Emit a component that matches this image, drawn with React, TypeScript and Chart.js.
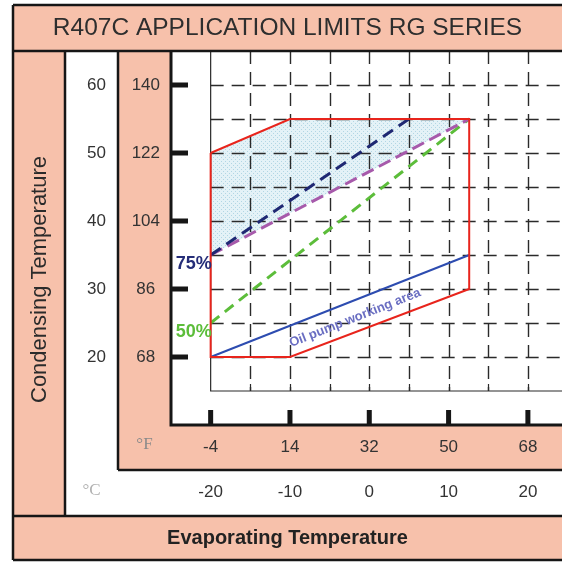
import React, { useEffect, useRef } from 'react';
import { Chart, registerables } from 'chart.js';

Chart.register(...registerables);

// ---------- texts ----------
const titleText = 'R407C APPLICATION LIMITS RG SERIES';
const xAxisTitle = 'Evaporating Temperature';
const yAxisTitle = 'Condensing Temperature';
const unitF = '°F';
const unitC = '°C';
const label75 = '75%';
const label50 = '50%';
const oilLabel = 'Oil pump working area';

// ---------- ticks (values in °C, labels in °F / °C) ----------
const xTickValuesC = [-20, -10, 0, 10, 20];
const xTickLabelsF = ['-4', '14', '32', '50', '68'];
const xTickLabelsC = ['-20', '-10', '0', '10', '20'];
const yTickValuesC = [20, 30, 40, 50, 60];
const yTickLabelsF = ['68', '86', '104', '122', '140'];
const yTickLabelsC = ['20', '30', '40', '50', '60'];

// ---------- dashed grid (°C) ----------
const gridLinesX = [-15, -10, -5, 0, 5, 10, 15, 20];
const gridLinesY = [20, 25, 30, 35, 40, 45, 50, 55, 60];
const gridOriginX = -20;
const gridOriginY = 15;

// ---------- series (°C) ----------
const envelopeX = [-20, -10, 12.6, 12.6, -10, -20, -20];
const envelopeY = [50, 55, 55, 30, 20, 20, 50];
const shadedX = [-20, -20, -10, 12.6, -20];
const shadedY = [35, 50, 55, 55, 35];
const line75X = [-20, 5];
const line75Y = [35, 55];
const lineLimitX = [-20, 12.6];
const lineLimitY = [35, 55];
const line50X = [-20, 12.6];
const line50Y = [25, 55];
const oilX = [-20, 12.6];
const oilY = [20, 35];
const oilLabelAt = [-1.8, 0];

const FAM = "'Liberation Sans', Arial, sans-serif";
const PINK = '#f7c1ab';
const INK = '#161616';

const pts = (xs: number[], ys: number[]) => xs.map((v, i) => ({ x: v, y: ys[i] }));

const panelPlugin = {
  id: 'panels',
  beforeDraw(chart: any) {
    const ctx = chart.ctx;
    const { y, yC, xC } = chart.scales;
    const ca = chart.chartArea;
    const W = chart.width;
    const H = chart.height;
    const left = yC.left;
    const top = 5;
    const colA = left + 52;
    const colB = y.left;
    const rowF = xC.top;
    const rowC = xC.bottom;
    const bottom = H - 2;
    ctx.save();
    ctx.fillStyle = '#ffffff';
    ctx.fillRect(0, 0, W, H);
    ctx.fillStyle = PINK;
    ctx.fillRect(left, top, W - left, ca.top - top);
    ctx.fillRect(left, ca.top, colA - left, rowC - ca.top);
    ctx.fillRect(colB, ca.top, ca.left - colB, rowF - ca.top);
    ctx.fillRect(colB, ca.bottom, W - colB, rowF - ca.bottom);
    ctx.fillRect(left, rowC, W - left, bottom - rowC);
    ctx.restore();
  },
  afterDatasetDraw(chart: any, args: any) {
    if (args.index !== 5) return;
    const ctx = chart.ctx;
    const { x, y } = chart.scales;
    const ca = chart.chartArea;
    const gx0 = x.getPixelForValue(gridOriginX);
    const gy0 = y.getPixelForValue(gridOriginY);
    ctx.save();
    ctx.strokeStyle = '#2a2a2a';
    ctx.lineWidth = 1.4;
    ctx.setLineDash([13, 8]);
    ctx.beginPath();
    gridLinesX.forEach((v) => {
      const px = Math.round(x.getPixelForValue(v)) + 0.5;
      ctx.moveTo(px, ca.top);
      ctx.lineTo(px, gy0);
    });
    gridLinesY.forEach((v) => {
      const py = Math.round(y.getPixelForValue(v)) + 0.5;
      ctx.moveTo(gx0, py);
      ctx.lineTo(ca.right, py);
    });
    ctx.stroke();
    ctx.setLineDash([]);
    ctx.lineWidth = 1.2;
    ctx.beginPath();
    ctx.moveTo(gx0, ca.top);
    ctx.lineTo(gx0, gy0);
    ctx.lineTo(ca.right, gy0);
    gridLinesX.forEach((v) => {
      const px = Math.round(x.getPixelForValue(v)) + 0.5;
      ctx.moveTo(px, gy0);
      ctx.lineTo(px, gy0 - 7);
    });
    ctx.stroke();
    ctx.restore();
  },
  afterDraw(chart: any) {
    const ctx = chart.ctx;
    const { x, y, yC, xC } = chart.scales;
    const ca = chart.chartArea;
    const W = chart.width;
    const H = chart.height;
    const left = yC.left;
    const top = 5;
    const colA = left + 52;
    const colB = y.left;
    const rowF = xC.top;
    const rowC = xC.bottom;
    const bottom = H - 2;

    ctx.save();
    // frame lines
    ctx.strokeStyle = INK;
    ctx.lineWidth = 2.5;
    ctx.beginPath();
    ctx.moveTo(left, top); ctx.lineTo(W, top);
    ctx.moveTo(left, top); ctx.lineTo(left, bottom);
    ctx.moveTo(left, bottom); ctx.lineTo(W, bottom);
    ctx.moveTo(left, ca.top); ctx.lineTo(W, ca.top);
    ctx.moveTo(colA, ca.top); ctx.lineTo(colA, rowC);
    ctx.moveTo(colB, ca.top); ctx.lineTo(colB, rowF);
    ctx.moveTo(colB, rowF); ctx.lineTo(W, rowF);
    ctx.moveTo(left, rowC); ctx.lineTo(W, rowC);
    ctx.stroke();
    // main axes
    ctx.lineWidth = 3;
    ctx.beginPath();
    ctx.moveTo(ca.left, ca.top); ctx.lineTo(ca.left, ca.bottom);
    ctx.moveTo(ca.left - 1.5, ca.bottom); ctx.lineTo(W, ca.bottom);
    ctx.stroke();
    // thick inward ticks
    ctx.lineWidth = 5;
    ctx.beginPath();
    yTickValuesC.forEach((v) => {
      const py = y.getPixelForValue(v);
      ctx.moveTo(ca.left, py);
      ctx.lineTo(ca.left + 17, py);
    });
    xTickValuesC.forEach((v) => {
      const px = x.getPixelForValue(v);
      ctx.moveTo(px, ca.bottom);
      ctx.lineTo(px, ca.bottom - 15);
    });
    ctx.stroke();

    // unit labels
    ctx.textAlign = 'center';
    ctx.textBaseline = 'middle';
    ctx.font = "17px 'Liberation Serif', 'DejaVu Serif', serif";
    ctx.fillStyle = '#8a8a8a';
    ctx.fillText(unitF, (colB + ca.left) / 2, (ca.bottom + rowF) / 2 - 3);
    ctx.fillStyle = '#b0b0b0';
    ctx.fillText(unitC, (colA + colB) / 2, (rowF + rowC) / 2 - 2);

    // rotated y title
    ctx.save();
    ctx.translate((left + colA) / 2 + 1, (ca.top + rowC) / 2 - 4);
    ctx.rotate(-Math.PI / 2);
    ctx.font = `22px ${FAM}`;
    ctx.fillStyle = '#2b2b2b';
    ctx.fillText(yAxisTitle, 0, 0);
    ctx.restore();

    // percentage labels
    ctx.textAlign = 'right';
    ctx.font = `bold 18px ${FAM}`;
    ctx.fillStyle = '#252d78';
    ctx.fillText(label75, x.getPixelForValue(line75X[0]) + 1, y.getPixelForValue(line75Y[0]) + 9);
    ctx.fillStyle = '#5cbd3a';
    ctx.fillText(label50, x.getPixelForValue(line50X[0]) + 1, y.getPixelForValue(line50Y[0]) + 9);

    // oil pump label along the blue line
    const p0x = x.getPixelForValue(oilX[0]);
    const p0y = y.getPixelForValue(oilY[0]);
    const p1x = x.getPixelForValue(oilX[1]);
    const p1y = y.getPixelForValue(oilY[1]);
    const ang = Math.atan2(p1y - p0y, p1x - p0x);
    const t = (oilLabelAt[0] - oilX[0]) / (oilX[1] - oilX[0]);
    const lx = p0x + (p1x - p0x) * t;
    const ly = p0y + (p1y - p0y) * t + 18;
    ctx.save();
    ctx.translate(lx, ly);
    ctx.rotate(ang);
    ctx.textAlign = 'center';
    ctx.font = `bold 13px ${FAM}`;
    ctx.fillStyle = '#6a6ec2';
    ctx.fillText(oilLabel, 0, 0);
    ctx.restore();

    ctx.restore();
  },
};

export default function App() {
  const ref = useRef<HTMLCanvasElement>(null);

  useEffect(() => {
    const canvas = ref.current;
    if (!canvas) return;
    const ctx2 = canvas.getContext('2d');
    const pc = document.createElement('canvas');
    pc.width = 4;
    pc.height = 4;
    const pctx = pc.getContext('2d')!;
    pctx.fillStyle = '#e4f2f7';
    pctx.fillRect(0, 0, 4, 4);
    pctx.fillStyle = '#b2d6e4';
    pctx.fillRect(1, 1, 1, 1);
    pctx.fillRect(3, 3, 1, 1);
    const pattern = ctx2!.createPattern(pc, 'repeat');

    const tickFont = { family: FAM, size: 17 };
    const hidden = { display: false, drawTicks: false };

    const chart = new Chart(canvas, {
      type: 'line',
      data: {
        datasets: [
          { data: pts(envelopeX, envelopeY), borderColor: '#e8241c', borderWidth: 2, fill: false },
          { data: pts(line75X, line75Y), borderColor: '#1f2873', borderWidth: 3, borderDash: [12, 7], fill: false },
          { data: pts(lineLimitX, lineLimitY), borderColor: '#a75aab', borderWidth: 3, borderDash: [13, 6], fill: false },
          { data: pts(line50X, line50Y), borderColor: '#5cbd3a', borderWidth: 3, borderDash: [11, 7], fill: false },
          { data: pts(oilX, oilY), borderColor: '#2d4cb0', borderWidth: 2, fill: false },
          { data: pts(shadedX, shadedY), borderWidth: 0, borderColor: 'rgba(0,0,0,0)', backgroundColor: pattern as any, fill: 'shape' },
        ],
      } as any,
      options: {
        animation: false,
        responsive: false,
        events: [],
        layout: { padding: { left: 13, top: 5, right: 0, bottom: 2 } },
        elements: { point: { radius: 0 }, line: { tension: 0 } },
        plugins: {
          legend: { display: false },
          tooltip: { enabled: false },
          title: {
            display: true,
            text: titleText,
            color: '#2e2e2e',
            font: { family: FAM, size: 24.5, weight: 'normal', lineHeight: 1.15 },
            padding: { top: 9, bottom: 8.8 },
          },
          subtitle: {
            display: true,
            text: xAxisTitle,
            position: 'bottom',
            color: '#222',
            font: { family: FAM, size: 20, weight: 'bold', lineHeight: 1.2 },
            padding: { top: 10, bottom: 10 },
          },
        },
        scales: {
          x: {
            type: 'linear',
            position: 'bottom',
            min: -25,
            max: 24.3,
            weight: 0,
            grid: hidden,
            border: { display: false },
            afterFit: (s: any) => { s.height = 45; },
            afterBuildTicks: (s: any) => { s.ticks = xTickValuesC.map((v) => ({ value: v })); },
            ticks: {
              autoSkip: false, maxRotation: 0, padding: 12, color: '#333', font: tickFont,
              callback: (_v: any, i: number) => xTickLabelsF[i],
            },
          },
          xC: {
            type: 'linear',
            position: 'bottom',
            min: -25,
            max: 24.3,
            weight: 1,
            grid: hidden,
            border: { display: false },
            afterFit: (s: any) => { s.height = 46; },
            afterBuildTicks: (s: any) => { s.ticks = xTickValuesC.map((v) => ({ value: v })); },
            ticks: {
              autoSkip: false, maxRotation: 0, padding: 12, color: '#333', font: tickFont,
              callback: (_v: any, i: number) => xTickLabelsC[i],
            },
          },
          y: {
            type: 'linear',
            position: 'left',
            min: 10,
            max: 65,
            weight: 0,
            grid: hidden,
            border: { display: false },
            afterFit: (s: any) => { s.width = 53; },
            afterBuildTicks: (s: any) => { s.ticks = yTickValuesC.map((v) => ({ value: v })); },
            ticks: {
              autoSkip: false, crossAlign: 'center', padding: 11, color: '#333', font: tickFont,
              callback: (_v: any, i: number) => yTickLabelsF[i],
            },
          },
          yC: {
            type: 'linear',
            position: 'left',
            min: 10,
            max: 65,
            weight: 1,
            grid: hidden,
            border: { display: false },
            afterFit: (s: any) => { s.width = 105; },
            afterBuildTicks: (s: any) => { s.ticks = yTickValuesC.map((v) => ({ value: v })); },
            ticks: {
              autoSkip: false, crossAlign: 'near', padding: 12, color: '#333', font: tickFont,
              callback: (_v: any, i: number) => yTickLabelsC[i],
            },
          },
        },
      } as any,
      plugins: [panelPlugin],
    });
    return () => chart.destroy();
  }, []);

  return (
    <div style={{ position: 'absolute', left: 0, top: 0, width: 562, height: 562 }}>
      <canvas ref={ref} width={562} height={562} style={{ display: 'block', width: 562, height: 562 }} />
    </div>
  );
}
